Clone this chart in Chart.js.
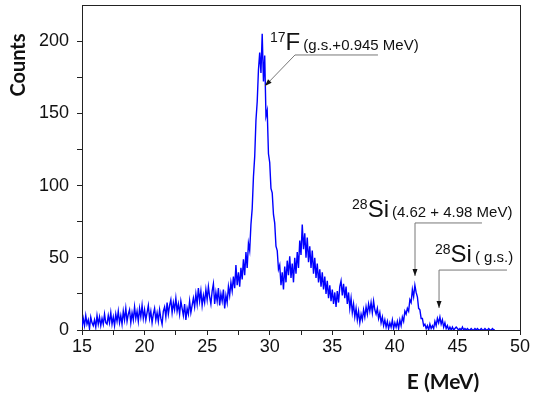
<!DOCTYPE html>
<html>
<head>
<meta charset="utf-8">
<script src="https://cdn.jsdelivr.net/npm/chart.js@4/dist/chart.umd.min.js"></script>
<style>
  html, body { margin: 0; padding: 0; background: #fff; }
</style>
</head>
<body>
<canvas id="spectrum" width="533" height="394"></canvas>
<script>
// channel calibration (MeV)
const channelStart = 15.0;
const channelWidth = 0.1;

// counts per channel, one row per MeV (15 .. 48)
const counts = [
  2, 8, 3, 10, 4, 7, 1, 9, 5, 3,
  7, 2, 10, 4, 9, 3, 8, 4, 11, 5,
  4, 10, 5, 12, 4, 9, 3, 11, 6, 13,
  5, 10, 4, 13, 7, 15, 6, 11, 14, 5,
  12, 7, 16, 8, 13, 6, 15, 9, 17, 8,
  14, 7, 12, 17, 8, 13, 5, 11, 15, 7,
  12, 6, 14, 8, 4, 13, 16, 9, 19, 11,
  17, 21, 12, 19, 14, 22, 13, 18, 11, 20,
  15, 10, 18, 7, 15, 11, 20, 12, 17, 22,
  16, 25, 18, 29, 20, 27, 17, 24, 19, 28,
  21, 30, 23, 18, 27, 32, 18, 26, 20, 29,
  17, 25, 20, 28, 15, 24, 19, 30, 24, 33,
  27, 37, 29, 45, 31, 40, 30, 43, 35, 49,
  38, 54, 43, 60, 55, 73, 84, 106, 120, 145,
  158, 180, 192, 178, 205, 172, 190, 148, 152, 122,
  116, 98, 95, 80, 74, 58, 55, 42, 45, 31,
  40, 28, 44, 33, 48, 38, 51, 36, 46, 33,
  50, 39, 54, 43, 62, 52, 73, 56, 67, 50,
  64, 47, 58, 43, 55, 39, 50, 36, 46, 33,
  42, 30, 40, 28, 37, 25, 34, 22, 31, 20,
  28, 18, 26, 16, 27, 19, 30, 34, 24, 32,
  22, 30, 18, 26, 15, 22, 12, 18, 9, 15,
  7, 13, 5, 11, 7, 14, 9, 16, 11, 18,
  13, 19, 12, 20, 14, 11, 15, 8, 12, 5,
  9, 3, 7, 2, 6, 1, 5, 2, 7, 1,
  5, 2, 6, 1, 7, 3, 9, 6, 13, 11,
  15, 13, 21, 19, 28, 23, 31, 26, 23, 15,
  14, 8, 8, 3, 4, 1, 3, 0, 4, 1,
  3, 1, 6, 3, 8, 5, 9, 4, 7, 2,
  5, 1, 3, 0, 2, 0, 2, 0, 1, 2,
  1, 0, 1, 0, 2, 0, 1, 0, 1, 0,
  0, 1, 0, 0, 1, 0, 1, 0, 0, 1,
  0, 0, 1, 0, 0, 1, 0, 0, 1, 0,
  0
];

// peak labels: text anchor, elbow, end of the leader and arrow tip, in (MeV, counts)
const peakNotes = [
  { sup: '17', main: 'F', note: '(g.s.+0.945 MeV)', at: [30.02, 193.8], elbow: [32.02, 190.4], end: 38.65, tip: [29.62, 168.9] },
  { sup: '28', main: 'Si', note: '(4.62 + 4.98 MeV)', at: [36.58, 78.2], elbow: [41.61, 74.1], end: 46.96, tip: [41.61, 37.4] },
  { sup: '28', main: 'Si', note: '( g.s.)', at: [43.21, 47.1], elbow: [43.53, 41.5], end: 48.96, tip: [43.53, 15.2] }
];

const points = counts.map((c, i) => ({ x: channelStart + i * channelWidth, y: c }));

const labelFont = 'Liberation Sans, Arial, sans-serif';

const decorations = {
  id: 'decorations',
  afterDraw(chart) {
    const { ctx, scales: { x, y } } = chart;
    ctx.save();

    peakNotes.forEach(n => {
      const ex = x.getPixelForValue(n.elbow[0]), ey = y.getPixelForValue(n.elbow[1]);
      const tx = x.getPixelForValue(n.tip[0]), ty = y.getPixelForValue(n.tip[1]);
      const endx = x.getPixelForValue(n.end);

      ctx.strokeStyle = '#777';
      ctx.lineWidth = 1;
      ctx.beginPath();
      ctx.moveTo(endx, ey);
      ctx.lineTo(ex, ey);
      ctx.lineTo(tx, ty);
      ctx.stroke();

      // arrow head
      const ang = Math.atan2(ty - ey, tx - ex);
      ctx.fillStyle = '#111';
      ctx.beginPath();
      ctx.moveTo(tx, ty);
      ctx.lineTo(tx - 7 * Math.cos(ang) + 2.5 * Math.sin(ang), ty - 7 * Math.sin(ang) - 2.5 * Math.cos(ang));
      ctx.lineTo(tx - 7 * Math.cos(ang) - 2.5 * Math.sin(ang), ty - 7 * Math.sin(ang) + 2.5 * Math.cos(ang));
      ctx.closePath();
      ctx.fill();

      // label
      let px = x.getPixelForValue(n.at[0]);
      const base = y.getPixelForValue(n.at[1]);
      ctx.fillStyle = '#111';
      ctx.textBaseline = 'alphabetic';
      ctx.textAlign = 'left';
      ctx.font = '14px ' + labelFont;
      ctx.fillText(n.sup, px, base - 8);
      px += ctx.measureText(n.sup).width;
      ctx.font = '24px ' + labelFont;
      ctx.fillText(n.main, px, base);
      px += ctx.measureText(n.main).width + 3;
      ctx.font = '15px ' + labelFont;
      ctx.fillText(n.note, px, base);
    });

    // axis titles
    ctx.fillStyle = '#111';
    ctx.font = 'bold 21px Lato, sans-serif';
    ctx.textAlign = 'center';
    ctx.textBaseline = 'middle';
    ctx.fillText('E (MeV)', 443, 382);

    ctx.translate(19, 65);
    ctx.rotate(-Math.PI / 2);
    ctx.font = 'bold 20px Lato, sans-serif';
    ctx.fillText('Counts', 0, 0);
    ctx.restore();
  }
};

new Chart(document.getElementById('spectrum').getContext('2d'), {
  type: 'line',
  data: {
    datasets: [{
      data: points,
      xAxisID: 'x',
      yAxisID: 'y',
      borderColor: '#0000ff',
      borderWidth: 1.4,
      pointRadius: 0,
      tension: 0,
      fill: false
    }]
  },
  options: {
    responsive: false,
    animation: false,
    layout: { padding: { left: 0, top: 5, right: 13, bottom: 0 } },
    plugins: { legend: { display: false }, tooltip: { enabled: false } },
    scales: {
      x: {
        type: 'linear',
        position: 'bottom',
        min: 15,
        max: 50,
        grid: { drawOnChartArea: false, drawTicks: true, tickLength: 5, color: '#222' },
        border: { display: true, color: '#222', width: 1 },
        ticks: {
          stepSize: 2.5,
          padding: 1,
          color: '#111',
          font: { family: labelFont, size: 18 },
          maxRotation: 0,
          autoSkip: false,
          callback: v => (v % 5 === 0 ? v : '')
        },
        afterFit: s => { s.height = 64; s.paddingLeft = 0; s.paddingRight = 0; }
      },
      y: {
        type: 'linear',
        position: 'left',
        min: 0,
        max: 225,
        grid: { drawOnChartArea: false, drawTicks: true, tickLength: 5, color: '#222' },
        border: { display: true, color: '#222', width: 1 },
        ticks: {
          stepSize: 25,
          padding: 8,
          color: '#111',
          font: { family: labelFont, size: 18 },
          autoSkip: false,
          callback: v => (v % 50 === 0 ? v : '')
        },
        afterBuildTicks: s => { s.ticks = s.ticks.filter(t => t.value < 225); },
        afterFit: s => { s.width = 82; s.paddingTop = 0; s.paddingBottom = 0; }
      },
      xTop: {
        type: 'linear',
        position: 'top',
        min: 15,
        max: 50,
        grid: { display: false },
        border: { display: true, color: '#222', width: 1 },
        ticks: { display: false },
        afterFit: s => { s.height = 0; }
      },
      yRight: {
        type: 'linear',
        position: 'right',
        min: 0,
        max: 225,
        grid: { display: false },
        border: { display: true, color: '#222', width: 1 },
        ticks: { display: false },
        afterFit: s => { s.width = 0; }
      }
    }
  },
  plugins: [decorations]
});
</script>
</body>
</html>
